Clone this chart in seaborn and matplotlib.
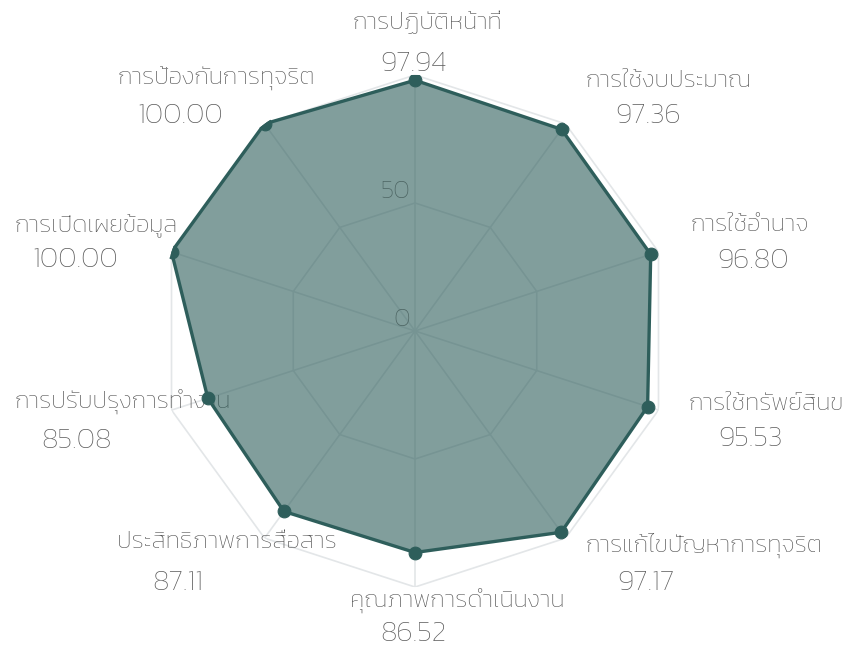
import numpy as np
import pandas as pd
import matplotlib
matplotlib.use("Agg")
import matplotlib.pyplot as plt
import seaborn as sns

categories = ["การปฏิบัติหน้าที่", "การใช้งบประมาณ", "การใช้อำนาจ", "การใช้ทรัพย์สินข",
              "การแก้ไขปัญหาการทุจริต", "คุณภาพการดำเนินงาน", "ประสิทธิภาพการสื่อสาร",
              "การปรับปรุงการทำงาน", "การเปิดเผยข้อมูล", "การป้องกันการทุจริต"]
scores = [97.94, 97.36, 96.80, 95.53, 97.17, 86.52, 87.11, 85.08, 100.00, 100.00]
grid_levels = [0, 50, 100]

sns.set_theme(style="white")
plt.rcParams["font.family"] = ["Kanit", "DejaVu Sans"]

n = len(categories)
theta = np.linspace(0, 2 * np.pi, n, endpoint=False)
df = pd.DataFrame({"theta": theta, "score": scores, "name": categories})
closed = pd.concat([df, df.iloc[:1].assign(theta=2 * np.pi)], ignore_index=True)

fig = plt.figure(figsize=(8.52, 6.49), dpi=100)
ax = fig.add_axes([0.1866, 0.0955, 0.601, 0.789], projection="polar")
ax.set_theta_offset(np.pi / 2)
ax.set_theta_direction(-1)
ax.set_ylim(0, 100)
ax.grid(False)
ax.spines["polar"].set_visible(False)
ax.set_xticks([])
ax.set_yticks([])

grid_col = "#e3e6e8"
ring = np.append(theta, theta[0])
for lvl in grid_levels[1:]:
    ax.plot(ring, [lvl] * len(ring), color=grid_col, lw=1.2, zorder=1)
for t in theta:
    ax.plot([t, t], [0, grid_levels[-1]], color=grid_col, lw=1.2, zorder=1)

main = "#2e5e5b"
ax.fill(closed["theta"], closed["score"], color=main, alpha=0.6, lw=0, zorder=2)
sns.lineplot(data=closed, x="theta", y="score", ax=ax, color=main, lw=2.4, sort=False, zorder=3)
sns.scatterplot(data=df, x="theta", y="score", ax=ax, color=main, s=85, edgecolor=main, zorder=4)
ax.set_xlabel("")
ax.set_ylabel("")

px = 0.72  # points per pixel at 100 dpi
for lvl in grid_levels[:2]:
    ax.annotate(str(lvl), (0, lvl), xytext=(-5 * px, 5 * px), textcoords="offset points",
                ha="right", va="baseline", fontsize=19, fontweight="light",
                color="#4d6563", zorder=5)

# label placement, pixels from the outer vertex (y down): name start x, baselines
name_dx = [-63, 20, 32, 30, 20, -65, -148, -157, -157, -147]
val_gap = [28, 30, 27, 30, 32, 30, 36, 27, 18, 20]
name_base = [-46, -37, -21, 0, 14, 20, 10, -2, -20, -39]
val_base = [-4, -1, 16, 36, 52, 54, 52, 38, 15, -1]
for i in range(n):
    ax.annotate(categories[i], (theta[i], 100), xytext=(name_dx[i] * px, -name_base[i] * px),
                textcoords="offset points", ha="left", va="baseline", fontsize=17.5,
                fontweight="light", color="#555555", annotation_clip=False, zorder=1.5)
    ax.annotate(f"{scores[i]:.2f}", (theta[i], 100),
                xytext=((name_dx[i] + val_gap[i]) * px, -val_base[i] * px),
                textcoords="offset points", ha="left", va="baseline", fontsize=21,
                fontweight="light", color="#5a5a5a", annotation_clip=False, zorder=1.5)

fig.savefig("out.png", dpi=100)
